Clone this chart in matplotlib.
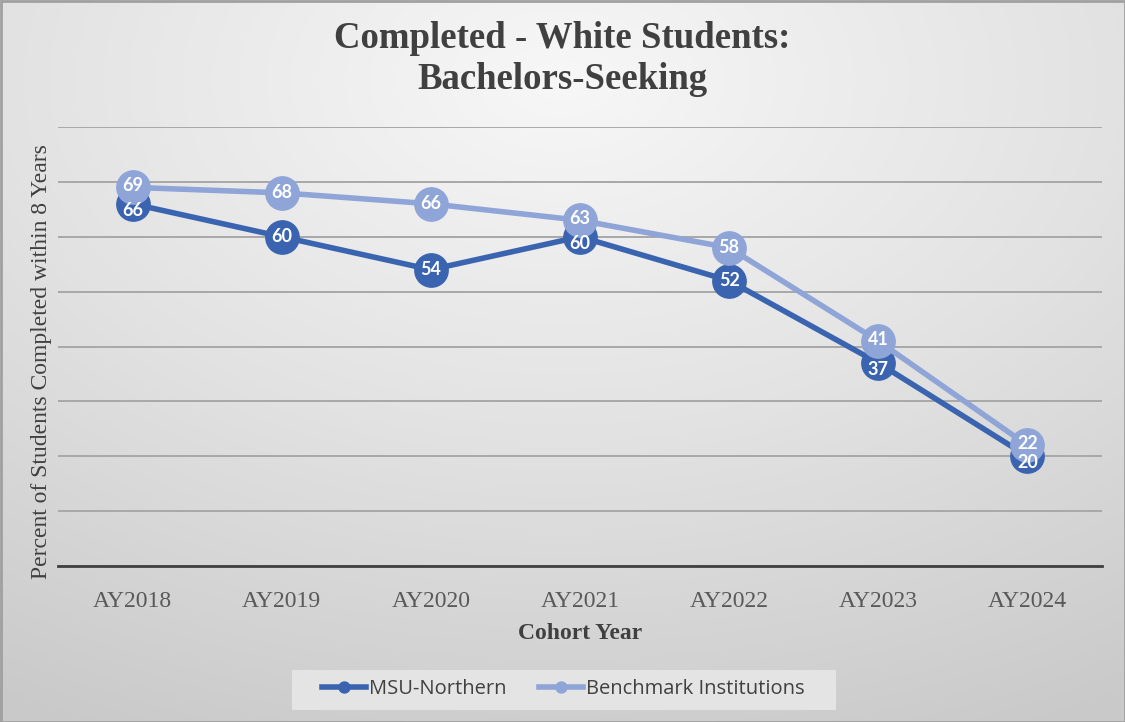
import numpy as np
import matplotlib
matplotlib.use("Agg")
import matplotlib.pyplot as plt
from matplotlib.colors import LinearSegmentedColormap
from matplotlib.patches import Rectangle

# chart data
years = ["AY2018", "AY2019", "AY2020", "AY2021", "AY2022", "AY2023", "AY2024"]
msu_northern = [66, 60, 54, 60, 52, 37, 20]
benchmark = [69, 68, 66, 63, 58, 41, 22]

dark_blue = "#3A64B0"
light_blue = "#8FA5D8"
serif = ["Liberation Serif", "DejaVu Serif"]
sans = ["Open Sans", "DejaVu Sans"]
label_font = ["Lato", "DejaVu Sans"]

fig = plt.figure(figsize=(11.25, 7.22), dpi=100)

# radial gray background
bg = fig.add_axes([0, 0, 1, 1], zorder=-10)
yy, xx = np.mgrid[0:722, 0:1125]
r = np.sqrt(((xx - 560) / 1125.0) ** 2 + ((yy - 80) / 722.0) ** 2)
cmap = LinearSegmentedColormap.from_list("bg", ["#f7f7f7", "#e2e2e2", "#c9c9c9"])
bg.imshow(r, cmap=cmap, aspect="auto", vmin=0, vmax=1.0)
bg.add_patch(Rectangle((0, 0), 1124, 721, fill=False, edgecolor="#a0a0a0", lw=2))
# legend box
bg.add_patch(Rectangle((291, 669), 544, 40, facecolor="#e4e4e4", edgecolor="none"))
bg.set_xlim(-0.5, 1124.5)
bg.set_ylim(721.5, -0.5)
bg.set_axis_off()

ax = fig.add_axes([58 / 1125, 1 - 566 / 722, 1044 / 1125, 439 / 722])
ax.patch.set_alpha(0)
x = np.arange(len(years))

ax.plot(x, benchmark, color=light_blue, lw=4, marker="o", ms=24, zorder=3,
        label="Benchmark Institutions")
ax.plot(x, msu_northern, color=dark_blue, lw=4, marker="o", ms=24, zorder=2,
        label="MSU-Northern")

# data labels, nudged apart where the two markers overlap
for i in range(len(years)):
    close = benchmark[i] - msu_northern[i] < 5
    ax.text(x[i], msu_northern[i] - (1.2 if close else 0), str(msu_northern[i]),
            ha="center", va="center", color="white", fontsize=13,
            fontweight="bold", family=label_font, zorder=4)
    ax.text(x[i], benchmark[i] + (0.3 if close else 0), str(benchmark[i]),
            ha="center", va="center", color="white", fontsize=13,
            fontweight="bold", family=label_font, zorder=5)

ax.set_xlim(-0.5, len(years) - 0.5)
ax.set_ylim(0, 80)
ax.set_yticks(range(0, 81, 10))
ax.yaxis.grid(True, color="#a8a8a8", lw=1.4)
ax.set_axisbelow(True)
ax.tick_params(axis="y", length=0, labelleft=False)
ax.tick_params(axis="x", length=0, pad=18)
ax.set_xticks(x)
ax.set_xticklabels(years, family=serif, fontsize=17, color="#595959")
for s in ["top", "right", "left"]:
    ax.spines[s].set_visible(False)
ax.spines["bottom"].set_color("#404040")
ax.spines["bottom"].set_linewidth(2)

ax.set_xlabel("Cohort Year", family=serif, fontsize=17, fontweight="bold",
              color="#404040", labelpad=8)
fig.text(42 / 1125, 1 - 362 / 722, "Percent of Students Completed within 8 Years",
         rotation=90, ha="center", va="center", family=serif, fontsize=17,
         color="#404040")

fig.text(0.5, 1 - 59 / 722, "Completed - White Students:\nBachelors-Seeking",
         ha="center", va="center", family=serif, fontsize=26.5, fontweight="bold",
         color="#404040", linespacing=1.25)

handles, labels = ax.get_legend_handles_labels()
leg = fig.legend(handles[::-1], labels[::-1], loc="center",
                 bbox_to_anchor=(563 / 1125, 1 - 689 / 722), ncol=2, frameon=False,
                 prop={"family": sans, "size": 14.5}, markerscale=0.33,
                 handlelength=2.2, handletextpad=0.15, columnspacing=1.6,
                 borderpad=0, borderaxespad=0)
for t in leg.get_texts():
    t.set_color("#404040")

fig.savefig("out.png", dpi=100)
